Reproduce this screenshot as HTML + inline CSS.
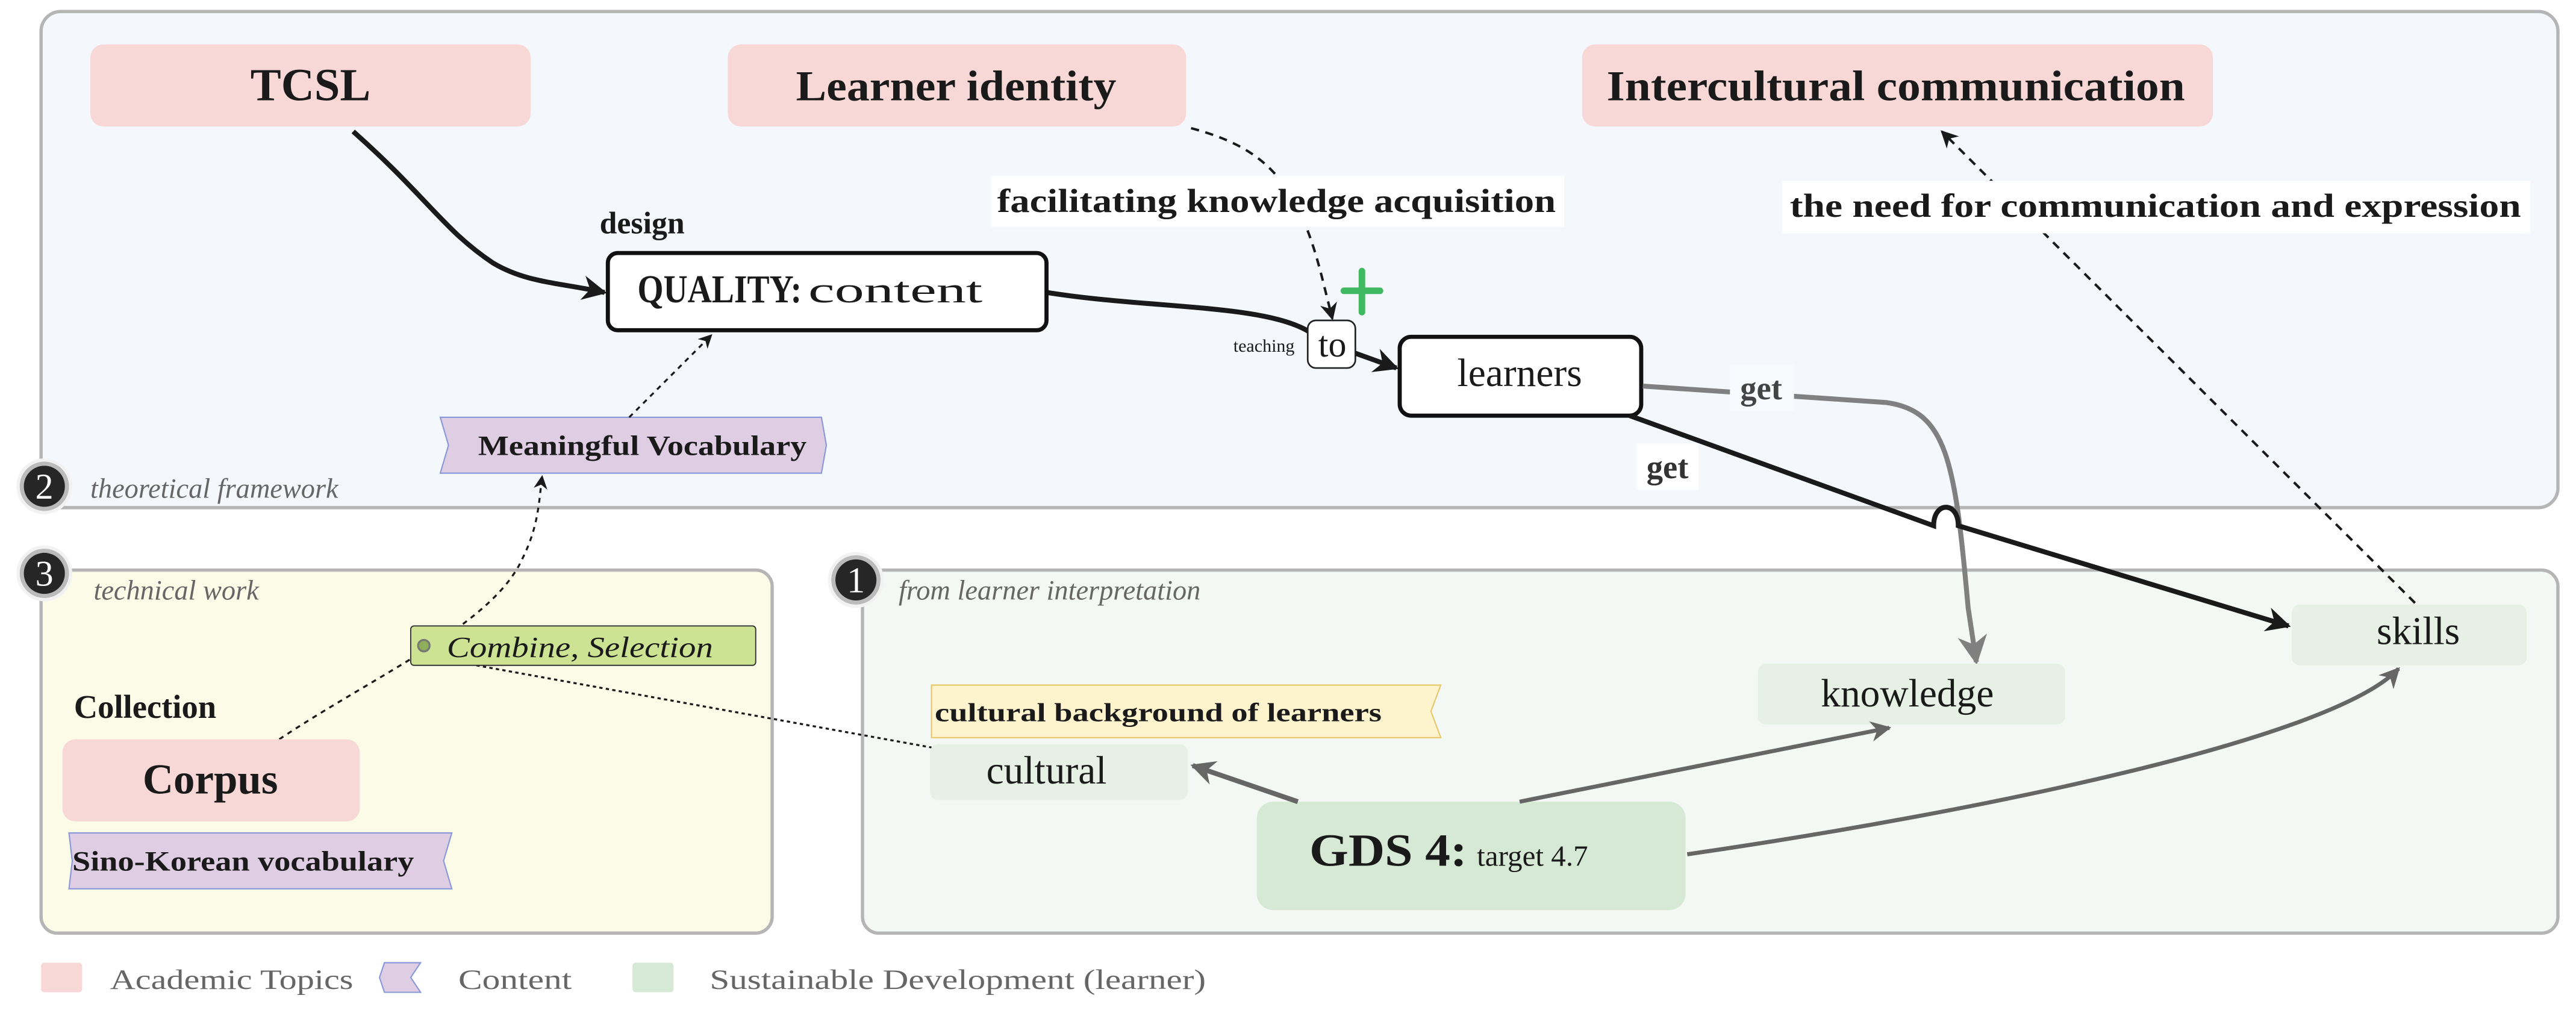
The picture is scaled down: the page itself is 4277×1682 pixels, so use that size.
<!DOCTYPE html>
<html><head><meta charset="utf-8"><style>
html,body{margin:0;padding:0;background:#fff;}
svg{display:block;}
text{font-family:"Liberation Serif",serif;fill:#1a1a1a;}
.b{font-weight:bold;}
.it{font-style:italic;fill:#666;}
</style></head><body>
<svg width="4277" height="1682" viewBox="0 0 1568 616.6" xmlns="http://www.w3.org/2000/svg">
<defs>
<marker id="ab" viewBox="0 0 10 10" refX="9" refY="5" markerWidth="5" markerHeight="5" orient="auto-start-reverse"><path d="M0,0 L10,5 L0,10 L3,5z" fill="#1a1a1a"/></marker>
<marker id="as" viewBox="0 0 10 10" refX="9" refY="5" markerWidth="7" markerHeight="7" orient="auto"><path d="M0,0 L10,5 L0,10 L3,5z" fill="#1a1a1a"/></marker>
<marker id="ag" viewBox="0 0 10 10" refX="9" refY="5" markerWidth="5" markerHeight="5" orient="auto"><path d="M0,0 L10,5 L0,10 L3,5z" fill="#666"/></marker>
<marker id="ag2" viewBox="0 0 10 10" refX="9" refY="5" markerWidth="6" markerHeight="6" orient="auto"><path d="M0,0 L10,5 L0,10 L3,5z" fill="#808080"/></marker>
</defs>
<!-- panels -->
<rect x="25" y="7" width="1532" height="302" rx="12" fill="#f4f8fd" stroke="#b5b5b5" stroke-width="2"/>
<rect x="25" y="347" width="445" height="221" rx="10" fill="#fcfbe8" stroke="#b5b5b5" stroke-width="2"/>
<rect x="525" y="347" width="1032" height="221" rx="10" fill="#f4f8f4" stroke="#b5b5b5" stroke-width="2"/>
<!-- badges -->
<g><circle cx="27" cy="296" r="17" fill="#f2f2f2"/><circle cx="27" cy="296" r="15" fill="#bbb"/><circle cx="27" cy="296" r="12.5" fill="#262626"/><text x="27" y="303.5" font-size="22" text-anchor="middle" style="fill:#fff">2</text></g>
<text x="55" y="303" font-size="17" class="it">theoretical framework</text>
<g><circle cx="27" cy="349" r="17" fill="#f2f2f2"/><circle cx="27" cy="349" r="15" fill="#bbb"/><circle cx="27" cy="349" r="12.5" fill="#262626"/><text x="27" y="356.5" font-size="22" text-anchor="middle" style="fill:#fff">3</text></g>
<text x="57" y="365" font-size="17" class="it">technical work</text>
<g><circle cx="521" cy="353" r="17" fill="#f2f2f2"/><circle cx="521" cy="353" r="15" fill="#bbb"/><circle cx="521" cy="353" r="12.5" fill="#262626"/><text x="521" y="360.5" font-size="22" text-anchor="middle" style="fill:#fff">1</text></g>
<text x="547" y="365" font-size="17" class="it">from learner interpretation</text>

<!-- top boxes -->
<rect x="55" y="27" width="268" height="50" rx="8" fill="#f8d8d6"/>
<text x="189" y="61" font-size="28" class="b" text-anchor="middle">TCSL</text>
<rect x="443" y="27" width="279" height="50" rx="8" fill="#f8d8d6"/>
<text x="582" y="61" font-size="26" class="b" text-anchor="middle" textLength="195" lengthAdjust="spacingAndGlyphs">Learner identity</text>
<rect x="963" y="27" width="384" height="50" rx="8" fill="#f8d8d6"/>
<text x="1154" y="61" font-size="26" class="b" text-anchor="middle" textLength="352" lengthAdjust="spacingAndGlyphs">Intercultural communication</text>

<!-- connectors top -->
<path d="M215,80 C260,120 270,140 300,160 C320,172 340,172 368,178" fill="none" stroke="#1a1a1a" stroke-width="3" marker-end="url(#ab)"/>
<path d="M637,178 C700,188 770,185 797,202" fill="none" stroke="#1a1a1a" stroke-width="3"/>
<path d="M825,215 L850,224" fill="none" stroke="#1a1a1a" stroke-width="3" marker-end="url(#ab)"/>
<path d="M725,78 C770,90 790,110 805,170 L811,194" fill="none" stroke="#1a1a1a" stroke-width="1.5" stroke-dasharray="5,4" marker-end="url(#as)"/>
<rect x="603" y="107" width="349" height="31" fill="#fff"/>
<text x="777" y="129" font-size="20" class="b" text-anchor="middle" textLength="340" lengthAdjust="spacingAndGlyphs">facilitating knowledge acquisition</text>
<text x="365" y="142" font-size="19" class="b">design</text>

<rect x="370" y="154" width="267" height="47" rx="6" fill="#fff" stroke="#111" stroke-width="2.5"/>
<text x="388" y="184" font-size="24" class="b" textLength="100" lengthAdjust="spacingAndGlyphs">QUALITY:</text>
<text x="492" y="184" font-size="22" textLength="106" lengthAdjust="spacingAndGlyphs">content</text>

<rect x="796" y="195" width="29" height="29" rx="5" fill="#fff" stroke="#222" stroke-width="1"/>
<text x="811" y="217" font-size="22" text-anchor="middle">to</text>
<text x="788" y="214" font-size="11" text-anchor="end">teaching</text>
<path d="M829,165 V190 M818,177 H840" stroke="#41b862" stroke-width="4" stroke-linecap="round"/>

<rect x="852" y="205" width="147" height="48" rx="7" fill="#fff" stroke="#111" stroke-width="2.5"/>
<text x="925" y="235" font-size="24" text-anchor="middle">learners</text>

<!-- get gray -->
<path d="M1000,235 L1148,245 C1185,250 1190,280 1198,370 L1203,403" fill="none" stroke="#808080" stroke-width="3" marker-end="url(#ag2)"/>
<rect x="1053" y="222" width="39" height="28" fill="#f8fafd"/>
<text x="1072" y="243" font-size="20" class="b" text-anchor="middle" style="fill:#444">get</text>
<!-- get black with hop -->
<path d="M992,253 L1177,320 C1177,305 1192,305 1192,320 L1393,381" fill="none" stroke="#1a1a1a" stroke-width="3" marker-end="url(#ab)"/>
<rect x="996" y="270" width="38" height="28" fill="#fff"/>
<text x="1015" y="291" font-size="20" class="b" text-anchor="middle" style="fill:#333">get</text>

<!-- need dashed -->
<path d="M1470,367 L1182,80" fill="none" stroke="#1a1a1a" stroke-width="1.5" stroke-dasharray="5,4" marker-end="url(#as)"/>
<rect x="1085" y="110" width="455" height="32" fill="#fff"/>
<text x="1312" y="132" font-size="20" class="b" text-anchor="middle" textLength="445" lengthAdjust="spacingAndGlyphs">the need for communication and expression</text>

<!-- Meaningful Vocabulary tag -->
<path d="M268,254 L500,254 L503,271 L500,288 L268,288 L273,271 Z" fill="#dfcde4" stroke="#8a9ad8" stroke-width="0.8"/>
<text x="391" y="277" font-size="17" class="b" text-anchor="middle" textLength="200" lengthAdjust="spacingAndGlyphs">Meaningful Vocabulary</text>
<path d="M383,254 L433,204" fill="none" stroke="#1a1a1a" stroke-width="1.2" stroke-dasharray="3,3" marker-end="url(#as)"/>
<path d="M170,450 C230,410 300,380 318,340 C328,320 328,305 330,290" fill="none" stroke="#1a1a1a" stroke-width="1.2" stroke-dasharray="3,3" marker-end="url(#as)"/>

<!-- technical panel -->
<path d="M290,405 L567,455" fill="none" stroke="#1a1a1a" stroke-width="1.2" stroke-dasharray="2,2"/>
<rect x="250" y="381" width="210" height="24" rx="2" fill="#cde394" stroke="#333" stroke-width="0.7"/>
<circle cx="258" cy="393" r="3.5" fill="#8fb05a" stroke="#777" stroke-width="1.2"/>
<text x="272" y="400" font-size="18" font-style="italic" textLength="162" lengthAdjust="spacingAndGlyphs">Combine,  Selection</text>
<text x="45" y="437" font-size="20" class="b">Collection</text>
<rect x="38" y="450" width="181" height="50" rx="8" fill="#f8d8d6"/>
<text x="128" y="483" font-size="26" class="b" text-anchor="middle">Corpus</text>
<path d="M42,507 L275,507 L270,524 L275,541 L42,541 L44,524 Z" fill="#dfcde4" stroke="#8a9ad8" stroke-width="0.8"/>
<text x="44" y="530" font-size="17" class="b" textLength="208" lengthAdjust="spacingAndGlyphs">Sino-Korean vocabulary</text>

<!-- learner panel -->
<path d="M567,417 L877,417 L871,433 L877,449 L567,449 Z" fill="#fdf3cc" stroke="#e8c86a" stroke-width="0.8"/>
<text x="569" y="439" font-size="16" class="b" textLength="272" lengthAdjust="spacingAndGlyphs">cultural background of learners</text>
<rect x="566" y="453" width="157" height="34" rx="5" fill="#e6f0e4"/>
<text x="637" y="477" font-size="24" text-anchor="middle">cultural</text>
<rect x="1070" y="404" width="187" height="37" rx="5" fill="#e6f0e4"/>
<text x="1161" y="430" font-size="24" text-anchor="middle">knowledge</text>
<rect x="1395" y="368" width="143" height="37" rx="5" fill="#e6f0e4"/>
<text x="1472" y="392" font-size="24" text-anchor="middle">skills</text>
<rect x="765" y="488" width="261" height="66" rx="10" fill="#d6e9d5"/>
<text x="797" y="527" font-size="28" class="b" textLength="96" lengthAdjust="spacingAndGlyphs">GDS 4:</text>
<text x="899" y="527" font-size="18">target 4.7</text>
<path d="M790,488 L726,466" fill="none" stroke="#666" stroke-width="3" marker-end="url(#ag)"/>
<path d="M925,488 L1150,443" fill="none" stroke="#666" stroke-width="2.5" marker-end="url(#ag)"/>
<path d="M1027,520 C1200,495 1420,450 1460,407" fill="none" stroke="#666" stroke-width="2.5" marker-end="url(#ag)"/>

<!-- legend -->
<rect x="25" y="586" width="25" height="18" rx="2" fill="#f8d8d6"/>
<text x="67" y="602" font-size="17" style="fill:#666" textLength="148" lengthAdjust="spacingAndGlyphs">Academic Topics</text>
<path d="M234,586 L256,586 L250,595 L256,604 L234,604 L231,595 Z" fill="#dfcde4" stroke="#8a9ad8" stroke-width="0.8"/>
<text x="279" y="602" font-size="17" style="fill:#666" textLength="69" lengthAdjust="spacingAndGlyphs">Content</text>
<rect x="385" y="586" width="25" height="18" rx="2" fill="#d6e9d5"/>
<text x="432" y="602" font-size="17" style="fill:#666" textLength="302" lengthAdjust="spacingAndGlyphs">Sustainable Development (learner)</text>
</svg>
</body></html>
